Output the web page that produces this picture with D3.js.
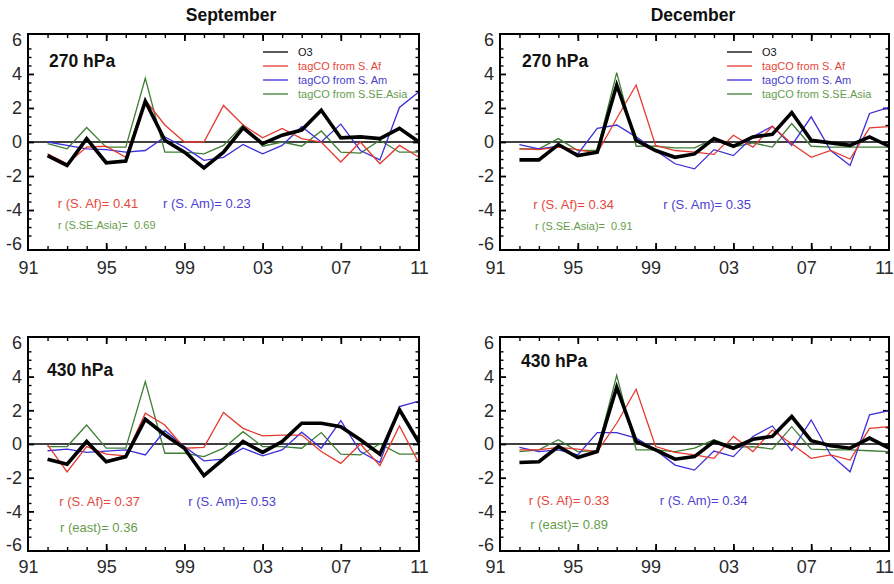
<!DOCTYPE html>
<html>
<head>
<meta charset="utf-8">
<script src="https://cdn.jsdelivr.net/npm/d3@7"></script>
<style>
  body { margin: 0; background: #fff; }
  svg { display: block; }
  text { font-family: "Liberation Sans", Arial, Helvetica, sans-serif; white-space: pre; }
</style>
</head>
<body>
<svg id="chart" width="894" height="584"></svg>
<script>
// ---- data -------------------------------------------------------------
const years = [1992, 1993, 1994, 1995, 1996, 1997, 1998, 1999, 2000, 2001,
               2002, 2003, 2004, 2005, 2006, 2007, 2008, 2009, 2010, 2011];
const labelYears = [1991, 1995, 1999, 2003, 2007, 2011];
const labelTexts = ["91", "95", "99", "03", "07", "11"];
const yTicks = [-6, -4, -2, 0, 2, 4, 6];
const seriesNames = ["O3", "tagCO from S. Af", "tagCO from S. Am", "tagCO from S.SE.Asia"];
const monthNames = ["September", "December"];
const levelNames = ["270 hPa", "430 hPa"];

// September, 270 hPa
const sepO3_270   = [-0.8, -1.38, 0.2, -1.22, -1.12, 2.4, 0.1, -0.6, -1.52, -0.6, 0.83, -0.1, 0.4, 0.7, 1.87, 0.24, 0.3, 0.2, 0.8, 0.0];
const sepAf_270   = [-0.7, -1.28, -0.3, -0.25, -0.9, 2.47, 1.0, 0.0, 0.0, 2.15, 1.0, 0.25, 0.8, 0.2, 0.0, -1.18, 0.0, -1.28, -0.2, -0.9];
const sepAm_270   = [0.0, -0.2, -0.4, -0.45, -0.6, -0.5, 0.3, -0.3, -1.08, -0.9, -0.14, -0.7, -0.2, 0.9, 0.0, 1.05, -0.5, -1.05, 2.03, 2.96];
const sepAsia_270 = [-0.1, -0.4, 0.85, -0.3, -0.3, 3.75, -0.6, -0.6, -0.7, -0.2, 1.0, -0.25, 0.0, -0.25, 0.65, -0.6, -0.65, 0.1, -0.6, -0.6];

// December, 270 hPa
const decO3_270   = [-1.05, -1.05, -0.15, -0.8, -0.6, 3.35, 0.1, -0.5, -0.9, -0.7, 0.2, -0.25, 0.3, 0.45, 1.73, 0.1, -0.05, -0.2, 0.3, -0.25];
const decAf_270   = [-0.4, -0.45, -0.3, -0.45, -0.65, 1.38, 3.35, -0.2, -0.5, -0.6, -0.73, 0.4, -0.3, 0.93, -0.1, -0.9, -0.5, -1.0, 0.83, 0.9];
const decAm_270   = [-0.15, -0.4, -0.25, -0.7, 0.8, 1.0, 0.3, -0.5, -1.28, -1.58, -0.45, -0.8, 0.3, 0.93, -0.2, 1.48, -0.5, -1.38, 1.68, 2.03];
const decAsia_270 = [-0.4, -0.4, 0.2, -0.5, -0.5, 4.08, -0.25, -0.25, -0.35, -0.35, 0.2, -0.3, -0.05, -0.3, 1.08, -0.25, -0.3, -0.3, -0.3, -0.3];

// September, 430 hPa
const sepO3_430   = [-0.9, -1.2, 0.15, -1.05, -0.75, 1.47, 0.55, -0.25, -1.88, -0.9, 0.15, -0.5, 0.15, 1.23, 1.23, 1.03, 0.25, -0.6, 2.03, 0.08];
const sepAf_430   = [-0.05, -1.65, -0.15, -0.6, -0.7, 1.83, 1.13, -0.25, -0.2, 1.87, 0.93, 0.48, 0.53, 0.53, -0.45, -1.15, 0.0, -1.28, 1.07, -1.15];
const sepAm_430   = [-0.4, -0.3, -0.5, -0.42, -0.35, -0.65, 0.8, -0.15, -1.0, -0.9, -0.25, -0.7, -0.35, 0.7, -0.25, 1.38, -0.45, -1.1, 2.22, 2.55];
const sepEast_430 = [-0.15, -0.15, 1.13, -0.25, -0.25, 3.7, -0.55, -0.55, -0.75, -0.25, 0.73, -0.15, -0.15, -0.25, 0.68, -0.6, -0.65, 0.0, -0.6, -0.6];

// December, 430 hPa
const decO3_430   = [-1.1, -1.05, -0.15, -0.8, -0.45, 3.37, 0.15, -0.35, -0.9, -0.75, 0.15, -0.25, 0.28, 0.45, 1.63, 0.2, -0.1, -0.25, 0.35, -0.25];
const decAf_430   = [-0.35, -0.35, -0.2, -0.3, -0.45, 1.23, 3.25, -0.15, -0.5, -0.65, -0.85, 0.45, -0.45, 0.83, 0.0, -0.85, -0.65, -0.95, 0.93, 1.03];
const decAm_430   = [-0.2, -0.45, -0.35, -0.65, 0.68, 0.68, 0.35, -0.35, -1.25, -1.55, -0.42, -0.75, 0.45, 1.07, -0.4, 1.43, -0.65, -1.65, 1.73, 1.98];
const decEast_430 = [-0.45, -0.35, 0.25, -0.45, -0.4, 4.07, -0.35, -0.35, -0.45, -0.25, 0.25, -0.2, -0.15, -0.3, 1.03, -0.3, -0.35, -0.35, -0.4, -0.45];

// correlation annotations: [S. Af, S. Am, third source]
const corrSep270 = ["r (S. Af)= 0.41", "r (S. Am)= 0.23", "r (S.SE.Asia)=  0.69"];
const corrDec270 = ["r (S. Af)= 0.34", "r (S. Am)= 0.35", "r (S.SE.Asia)=  0.91"];
const corrSep430 = ["r (S. Af)= 0.37", "r (S. Am)= 0.53", "r (east)= 0.36"];
const corrDec430 = ["r (S. Af)= 0.33", "r (S. Am)= 0.34", "r (east)= 0.89"];

// ---- styling ----------------------------------------------------------
const lineColors = ["#000000", "#e53a2f", "#3b2fd9", "#3e7f34"];
const lineWidths = [3.6, 1.3, 1.3, 1.3];
const textColors = ["#e5473b", "#4b42cf", "#679c4c"];

// panel frames and annotation anchors
const panels = [
  { month: 0, level: 0, series: [sepO3_270, sepAf_270, sepAm_270, sepAsia_270], corr: corrSep270,
    box: [28, 34, 419, 250], levelPos: [49, 67], corrPos: [[57.7, 208], [163, 208], [58, 228.5]], corr3Size: 11,
    legend: { x: 263, y: 52 }, labelDx: 0, labelPad: 11 },
  { month: 1, level: 0, series: [decO3_270, decAf_270, decAm_270, decAsia_270], corr: corrDec270,
    box: [500, 34, 889, 250], levelPos: [522, 67], corrPos: [[533.3, 209], [663.3, 209], [535, 229.5]], corr3Size: 11,
    legend: { x: 727, y: 52 }, labelDx: -5, labelPad: 11 },
  { month: 0, level: 1, series: [sepO3_430, sepAf_430, sepAm_430, sepEast_430], corr: corrSep430,
    box: [28, 337, 419, 551], levelPos: [47, 376], corrPos: [[59.3, 506], [188.3, 506], [60, 532]], corr3Size: 13,
    legend: null, labelDx: 0, labelPad: 9 },
  { month: 1, level: 1, series: [decO3_430, decAf_430, decAm_430, decEast_430], corr: corrDec430,
    box: [500, 337, 889, 551], levelPos: [521, 367], corrPos: [[528.7, 505], [659.7, 505], [530.3, 529]], corr3Size: 13,
    legend: null, labelDx: -5, labelPad: 9 }
];

const svg = d3.select("#chart");

// month titles above the columns
svg.selectAll("text.month")
  .data([{ t: monthNames[0], x: 231 }, { t: monthNames[1], x: 693 }])
  .join("text")
  .attr("class", "month")
  .attr("x", d => d.x).attr("y", 21)
  .attr("text-anchor", "middle")
  .attr("font-size", 17.5).attr("font-weight", "bold")
  .attr("fill", "#111")
  .text(d => d.t);

const minorYears = years.filter(y => y < 2011);
const majorYears = [1995, 1999, 2003, 2007];
const minorY = d3.range(-12, 13).map(k => k / 2).filter(v => v % 2 !== 0);
const majorY = [-4, -2, 0, 2, 4];

function styleTicks(g, w) {
  g.select(".domain").remove();
  g.selectAll(".tick line").attr("stroke", "#000").attr("stroke-width", w);
}

panels.forEach(p => {
  const [x0, y0, x1, y1] = p.box;
  const x = d3.scaleLinear().domain([1991, 2011]).range([x0, x1]);
  const y = d3.scaleLinear().domain([-6.35, 6.35]).range([y1, y0]);
  const g = svg.append("g");

  // inward ticks on all four sides
  const tickGroups = [
    [d3.axisBottom(x).tickValues(minorYears).tickSize(-4), `translate(0,${y1})`, 1.4],
    [d3.axisBottom(x).tickValues(majorYears).tickSize(-7), `translate(0,${y1})`, 1.8],
    [d3.axisTop(x).tickValues(minorYears).tickSize(-4), `translate(0,${y0})`, 1.4],
    [d3.axisTop(x).tickValues(majorYears).tickSize(-7), `translate(0,${y0})`, 1.8],
    [d3.axisLeft(y).tickValues(minorY).tickSize(-3.5), `translate(${x0},0)`, 1.4],
    [d3.axisLeft(y).tickValues(majorY).tickSize(-6), `translate(${x0},0)`, 1.8],
    [d3.axisRight(y).tickValues(minorY).tickSize(-3.5), `translate(${x1},0)`, 1.4],
    [d3.axisRight(y).tickValues(majorY).tickSize(-6), `translate(${x1},0)`, 1.8]
  ];
  tickGroups.forEach(([axis, tr, w]) => {
    g.append("g").attr("transform", tr)
      .call(axis.tickFormat(""))
      .call(a => styleTicks(a, w));
  });

  // tick labels
  g.append("g")
    .attr("transform", `translate(${p.labelDx},${y1})`)
    .call(d3.axisBottom(x).tickValues(labelYears).tickSize(0).tickPadding(p.labelPad)
      .tickFormat((d, i) => labelTexts[i]))
    .call(a => {
      a.select(".domain").remove();
      a.selectAll("text").attr("font-size", 18).attr("fill", "#2a2a2a")
        .attr("font-family", "'Liberation Sans', Arial, sans-serif");
    });
  g.append("g")
    .attr("transform", `translate(${x0},0)`)
    .call(d3.axisLeft(y).tickValues(yTicks).tickSize(0).tickPadding(6).tickFormat(d => String(d)))
    .call(a => {
      a.select(".domain").remove();
      a.selectAll("text").attr("font-size", 18).attr("fill", "#2a2a2a")
        .attr("font-family", "'Liberation Sans', Arial, sans-serif");
    });

  // zero reference line
  g.append("line")
    .attr("x1", x0).attr("x2", x1)
    .attr("y1", y(0)).attr("y2", y(0))
    .attr("stroke", "#000").attr("stroke-width", 1.5);

  // series: tagCO sources first, ozone on top
  const line = d3.line().x((d, i) => x(years[i])).y(d => y(d));
  [3, 2, 1, 0].forEach(k => {
    g.append("path")
      .datum(p.series[k])
      .attr("d", line)
      .attr("fill", "none")
      .attr("stroke", lineColors[k])
      .attr("stroke-width", lineWidths[k])
      .attr("stroke-linejoin", "miter");
  });

  // frame
  g.append("rect")
    .attr("x", x0).attr("y", y0)
    .attr("width", x1 - x0).attr("height", y1 - y0)
    .attr("fill", "none").attr("stroke", "#000").attr("stroke-width", 2);

  // pressure level label
  g.append("text")
    .attr("x", p.levelPos[0]).attr("y", p.levelPos[1])
    .attr("font-size", 17.5).attr("font-weight", "bold").attr("fill", "#111")
    .text(levelNames[p.level]);

  // correlation annotations
  p.corr.forEach((t, i) => {
    g.append("text")
      .attr("x", p.corrPos[i][0]).attr("y", p.corrPos[i][1])
      .attr("font-size", i === 2 ? p.corr3Size : 13)
      .attr("fill", textColors[i])
      .text(t);
  });

  // legend
  if (p.legend) {
    const lg = g.append("g").attr("transform", `translate(${p.legend.x},${p.legend.y})`);
    seriesNames.forEach((name, i) => {
      const row = lg.append("g").attr("transform", `translate(0,${i * 14})`);
      row.append("line").attr("x1", 0).attr("x2", 25).attr("y1", 0).attr("y2", 0)
        .attr("stroke", lineColors[i]).attr("stroke-width", 1.3);
      row.append("text").attr("x", 35).attr("y", 4)
        .attr("font-size", 11)
        .attr("fill", i === 0 ? "#111" : textColors[i - 1])
        .text(name);
    });
  }
});
</script>
</body>
</html>
